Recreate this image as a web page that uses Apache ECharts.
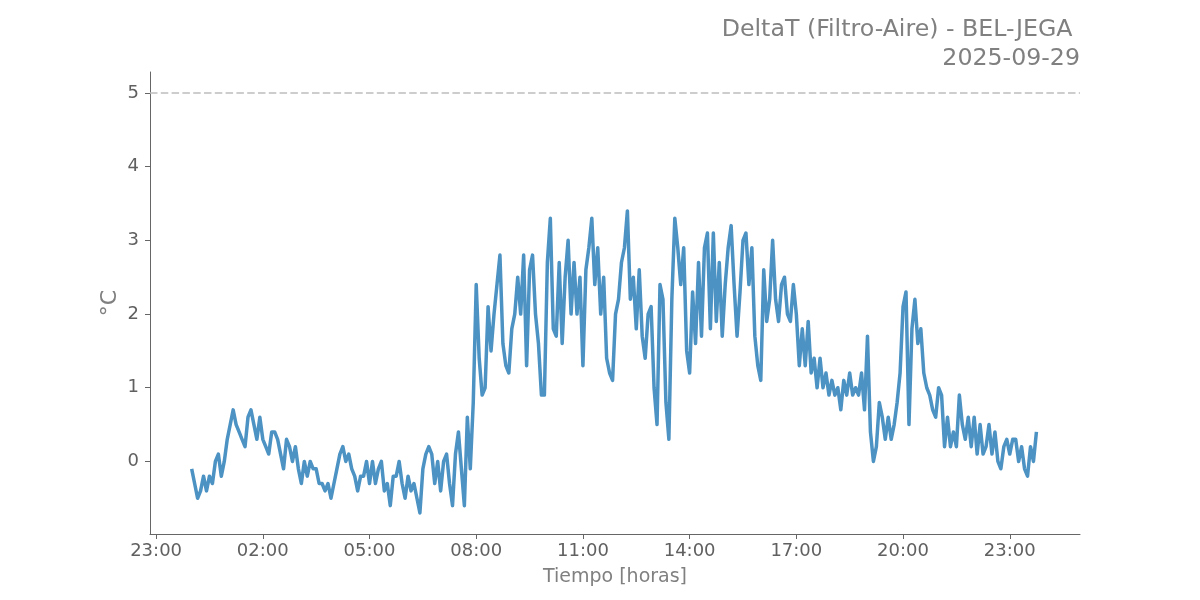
<!DOCTYPE html>
<html>
<head>
<meta charset="utf-8">
<title>DeltaT (Filtro-Aire) - BEL-JEGA</title>
<script src="https://cdn.jsdelivr.net/npm/echarts@6/dist/echarts.min.js"></script>
<style>
  html, body { margin: 0; padding: 0; background: #fff; }
  #chart { width: 1200px; height: 600px; }
</style>
</head>
<body>
<div id="chart"></div>
<script>
  // muestras cada 5 minutos desde las 00:00 del 2025-09-29
  var stepMinutes = 5
  var dayLabel = '2025-09-29'

  // 00:00 - 07:55
  var nightValues = [
    -0.1, -0.3, -0.5, -0.4, -0.2, -0.4, -0.2, -0.3, 0.0, 0.1, -0.2, 0.0,
    0.3, 0.5, 0.7, 0.5, 0.4, 0.3, 0.2, 0.6, 0.7, 0.5, 0.3, 0.6,
    0.3, 0.2, 0.1, 0.4, 0.4, 0.3, 0.1, -0.1, 0.3, 0.2, 0.0, 0.2,
    -0.1, -0.3, 0.0, -0.2, 0.0, -0.1, -0.1, -0.3, -0.3, -0.4, -0.3, -0.5,
    -0.3, -0.1, 0.1, 0.2, 0.0, 0.1, -0.1, -0.2, -0.4, -0.2, -0.2, 0.0,
    -0.3, 0.0, -0.3, -0.1, 0.0, -0.4, -0.3, -0.6, -0.2, -0.2, 0.0, -0.3,
    -0.5, -0.2, -0.4, -0.3, -0.5, -0.7, -0.1, 0.1, 0.2, 0.1, -0.3, 0.0,
    -0.4, 0.0, 0.1, -0.3, -0.6, 0.1, 0.4, -0.1, -0.6, 0.6, -0.1, 0.8
  ]
  // 08:00 - 15:55
  var dayValues = [
    2.4, 1.4, 0.9, 1.0, 2.1, 1.5, 2.0, 2.4, 2.8, 1.6, 1.3, 1.2,
    1.8, 2.0, 2.5, 2.0, 2.8, 1.3, 2.6, 2.8, 2.0, 1.6, 0.9, 0.9,
    2.7, 3.3, 1.8, 1.7, 2.7, 1.6, 2.5, 3.0, 2.0, 2.7, 2.0, 2.5,
    1.3, 2.6, 2.9, 3.3, 2.4, 2.9, 2.0, 2.5, 1.4, 1.2, 1.1, 2.0,
    2.2, 2.7, 2.9, 3.4, 2.2, 2.5, 1.8, 2.6, 1.7, 1.4, 2.0, 2.1,
    1.0, 0.5, 2.4, 2.2, 0.8, 0.3, 2.2, 3.3, 2.9, 2.4, 2.9, 1.5,
    1.2, 2.3, 1.6, 2.7, 1.7, 2.9, 3.1, 1.8, 3.1, 1.9, 2.7, 1.7,
    2.4, 2.9, 3.2, 2.4, 1.7, 2.3, 3.0, 3.1, 2.4, 2.9, 1.7, 1.3
  ]
  // 16:00 - 23:45
  var eveningValues = [
    1.1, 2.6, 1.9, 2.2, 3.0, 2.2, 1.9, 2.4, 2.5, 2.0, 1.9, 2.4,
    2.0, 1.3, 1.8, 1.3, 1.9, 1.2, 1.4, 1.0, 1.4, 1.0, 1.2, 0.9,
    1.1, 0.9, 1.0, 0.7, 1.1, 0.9, 1.2, 0.9, 1.0, 0.9, 1.2, 0.7,
    1.7, 0.4, 0.0, 0.2, 0.8, 0.6, 0.3, 0.6, 0.3, 0.5, 0.8, 1.2,
    2.1, 2.3, 0.5, 1.8, 2.2, 1.6, 1.8, 1.2, 1.0, 0.9, 0.7, 0.6,
    1.0, 0.9, 0.2, 0.6, 0.2, 0.4, 0.2, 0.9, 0.5, 0.3, 0.6, 0.2,
    0.6, 0.1, 0.5, 0.1, 0.2, 0.5, 0.1, 0.4, 0.0, -0.1, 0.2, 0.3,
    0.1, 0.3, 0.3, 0.0, 0.2, -0.1, -0.2, 0.2, 0.0, 0.4
  ]

  var threshold = 5
  var yTicks = [0, 1, 2, 3, 4, 5]
  // horas relativas a las 00:00 del día (-1 = 23:00 del día anterior)
  var xTickHours = [-1, 2, 5, 8, 11, 14, 17, 20, 23]

  var values = nightValues.concat(dayValues, eveningValues)
  var seriesData = values.map(function (v, i) {
    return [i * stepMinutes / 60, v]
  })

  function pad (n) { return n < 10 ? '0' + n : '' + n }
  function hourLabel (h) {
    var m = Math.round(((h % 24) + 24) % 24 * 60)
    return pad(Math.floor(m / 60)) + ':' + pad(m % 60)
  }

  var chart = echarts.init(document.getElementById('chart'), null, { renderer: 'canvas' })
  var font = 'DejaVu Sans'

  var option = {
    backgroundColor: '#ffffff',
    animation: false,
    title: {
      text: 'DeltaT (Filtro-Aire) - BEL-JEGA \n' + dayLabel,
      left: 1080,
      top: 15,
      padding: 0,
      textAlign: 'right',
      textStyle: {
        fontFamily: font,
        fontSize: 23.7,
        lineHeight: 29,
        fontWeight: 'normal',
        color: '#808080',
        align: 'right'
      }
    },
    grid: {
      left: 150,
      right: 120,
      top: 72,
      bottom: 66
    },
    xAxis: {
      type: 'value',
      min: -1.1716,
      max: 24.975,
      name: 'Tiempo [horas]',
      nameLocation: 'middle',
      nameGap: 34,
      nameMoveOverlap: false,
      nameTextStyle: { fontFamily: font, fontSize: 19, color: '#808080' },
      axisLine: { onZero: false, lineStyle: { color: '#666', width: 1 } },
      axisTick: {
        length: 5,
        customValues: xTickHours,
        lineStyle: { color: '#666' }
      },
      axisLabel: {
        customValues: xTickHours,
        margin: 8,
        fontFamily: font,
        fontSize: 18,
        color: '#606060',
        formatter: hourLabel
      },
      splitLine: { show: false }
    },
    yAxis: {
      type: 'value',
      min: -0.985,
      max: 5.285,
      name: '°C',
      nameLocation: 'middle',
      nameGap: 29,
      nameMoveOverlap: false,
      nameRotate: 90,
      nameTextStyle: { fontFamily: font, fontSize: 22, color: '#808080' },
      axisLine: { show: true, onZero: false, lineStyle: { color: '#666', width: 1 } },
      axisTick: {
        show: true,
        length: 5,
        customValues: yTicks,
        lineStyle: { color: '#666' }
      },
      axisLabel: {
        customValues: yTicks,
        margin: 11,
        fontFamily: font,
        fontSize: 18,
        color: '#606060'
      },
      splitLine: { show: false }
    },
    series: [
      {
        name: 'DeltaT',
        type: 'line',
        data: seriesData,
        showSymbol: false,
        smooth: false,
        lineStyle: { color: '#4C92C3', width: 3.5, join: 'round' },
        itemStyle: { color: '#4C92C3' },
        markLine: {
          silent: true,
          symbol: 'none',
          label: { show: false },
          lineStyle: { color: '#bdbdbd', type: [7.5, 3.3], width: 1.5 },
          data: [{ yAxis: threshold }]
        }
      }
    ]
  }

  chart.setOption(option)
</script>
</body>
</html>
